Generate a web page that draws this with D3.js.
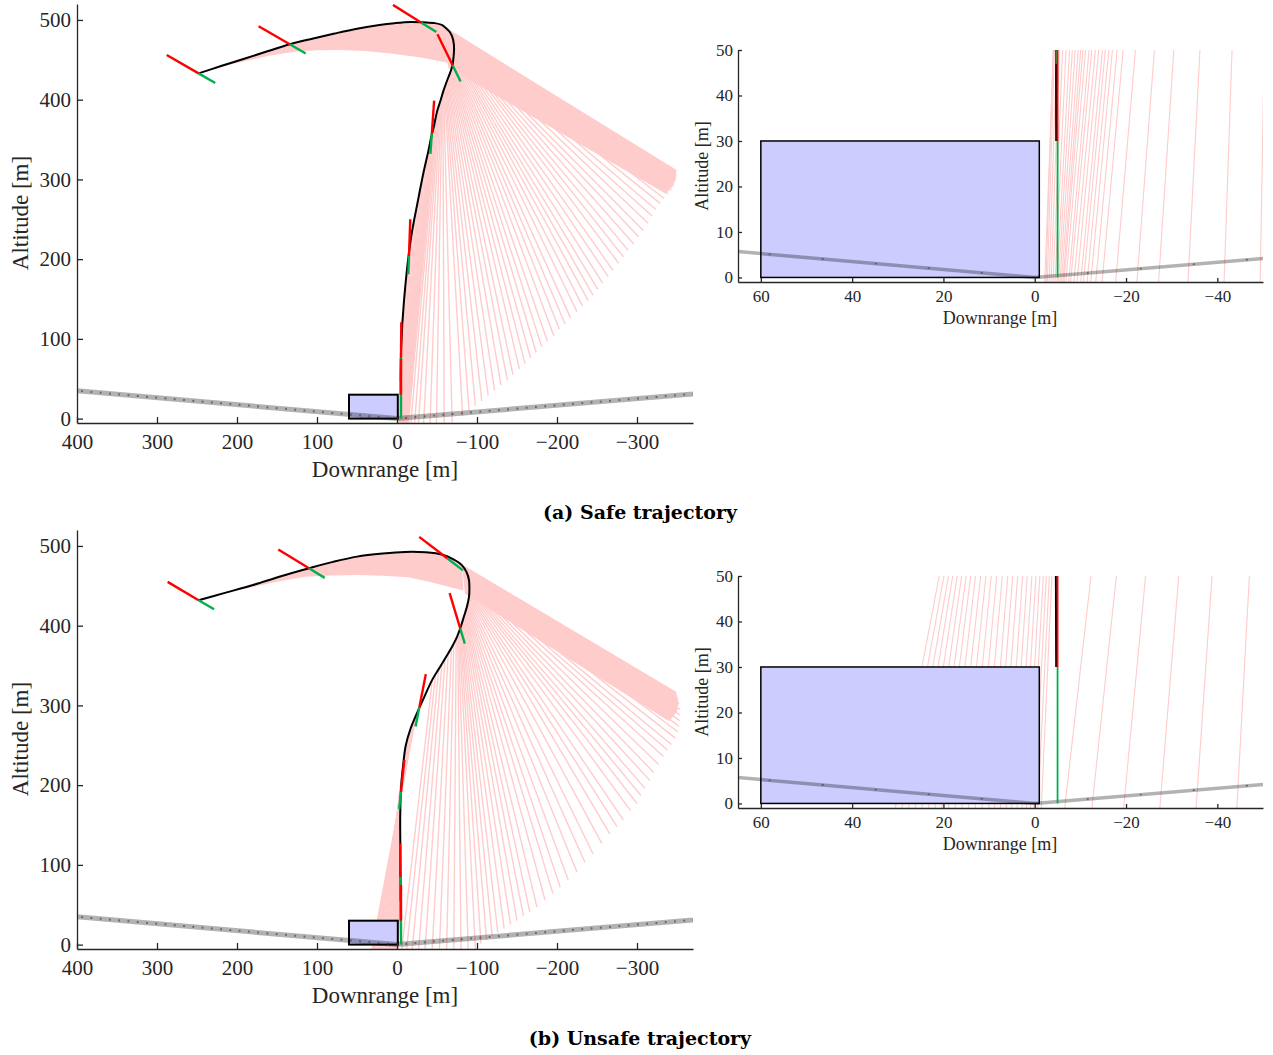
<!DOCTYPE html>
<html>
<head>
<meta charset="utf-8">
<script src="https://cdn.jsdelivr.net/npm/d3@7"></script>
<style>
    body { margin: 0; background: #fff; }
    svg text { font-family: "Liberation Serif", "DejaVu Serif", serif; }
    .caption { font-family: "DejaVu Serif", serif; font-weight: bold; fill: #000; }
</style>
</head>
<body>
<svg id="chart" width="1273" height="1055"></svg>
<script>
// ---------- ticks ----------
const mainXTicks = [400, 300, 200, 100, 0, -100, -200, -300]
const mainYTicks = [0, 100, 200, 300, 400, 500]
const zoomXTicks = [60, 40, 20, 0, -20, -40]
const zoomYTicks = [0, 10, 20, 30, 40, 50]

// ---------- scene (m) ----------
const groundX = [400, 0, -370]
const groundY = [35, 0, 31]
const padX = [60, -1]
const padY = [0, 30]

// ---------- (a) safe ----------
const trajAX = [248, 219, 189, 161, 134, 106, 78, 50, 22, 3, -17, -33, -47.5, -56, -61, -65.5, -69, -71, -71.3, -70.5, -69.5, -66.5, -63, -58, -54.6, -50, -46, -42.5, -39.5, -33, -26.3, -17.1, -8.8, -5.2, -4.7, -4.7]
const trajAY = [433, 442.5, 452, 461, 469.5, 476.5, 483, 489, 493.7, 496, 497.5, 497, 496, 493.7, 490, 485.5, 479, 470, 462, 452, 443.5, 434, 425, 411, 399.6, 385, 366, 352, 337, 308, 274, 224, 148.5, 90, 50, 30]

const bandAX = [248, 219, 189, 161, 134, 106, 78, 50, 22, 3, -17, -33, -47.5, -56, -61, -65, -30, 8, 40, 72, 100, 128, 160, 200]
const bandAY = [433, 442.5, 452, 461, 469.5, 476.5, 483, 489, 493.7, 496, 497.5, 497, 496, 493.7, 490, 446, 453, 458, 461, 462.3, 462, 460, 455, 446]
const wedgeAX = [-61, -349, -349, -345, -336, -64]
const wedgeAY = [490, 312, 302, 292, 282, 440]

// fan lines: start on the path, end on the envelope / ground
const fanAX0 = [-60, -61, -62, -63, -63.8, -64.7, -65.5, -66.4, -67.3, -68.2, -69, -69.6, -70.1, -70.5, -70.8, -71, -71.2, -71.3, -71.3, -71.3, -71.3, -71.1, -71, -70.8, -70.6, -70.3, -70, -69.7, -69.4, -69, -68.5, -68, -67.4, -66.8, -66.2, -65.5, -64.8, -64, -63.3, -62.5, -61.7, -60.9, -60.1, -59.3,
    -58.3, -57.3, -56.3, -55.3, -54.2, -53, -51.8, -50.6, -49.4,
    -48, -46.8, -45.6, -44.4, -43, -41.5, -40, -38, -35.5, -33,
    -30.5, -28, -25.5, -22.5, -19.8, -17, -14, -11.3, -9, -7.2, -6, -5.2, -4.8]
const fanAY0 = [490.5, 489.3, 488, 486.8, 485.6, 484.4, 483.2, 482, 480.9, 479.9, 478.6, 477.2, 475.8, 474.4, 473, 471.5, 470, 468, 466, 464, 462, 460, 458, 456, 454, 452, 450, 448, 446, 444, 442, 440, 438, 436, 434, 432, 430, 428, 425.5, 423, 420.5, 418, 415.5, 413,
    410, 407, 404, 401, 398, 394, 390, 386, 382,
    376, 370, 364, 358, 352, 345, 339, 330, 320, 309,
    296, 285, 272, 258, 244, 224, 200, 176, 150, 125, 105, 88, 68]
const fanAX1 = [-349, -349, -348, -346, -343, -339, -334, -329, -324, -319, -314, -308, -302, -296, -289, -283, -277, -270, -264, -257, -251, -245, -239, -232, -225, -217, -210, -203, -196, -188, -181, -174, -167, -160, -153, -145, -138, -130, -122, -114, -106, -98, -90, -82,
    -69, -59, -49.3, -41.3, -33.3, -26.8, -22, -17.3, -14.3,
    -12.9, -11.8, -11, -10.2, -9.6, -8.8, -8.1, -7.4, -7, -6.4,
    -6, -5.8, -5.5, -5.2, -4.9, -4.6, -4.2, -3.8, -3.4, -3, -2.6, -2.3, -2]
const fanAY1 = [310, 304, 298, 292, 287, 282, 276, 270, 262, 254, 245, 236, 228, 219, 211, 203, 195, 186, 178, 170, 162, 155, 148, 141, 134, 126, 119, 112, 104, 97, 90, 83, 76, 69, 62, 55, 48, 42, 35, 29, 22, 16, 10, 4,
    -6, -6, -6, -6, -6, -6, -6, -6, -6,
    -6, -6, -6, -6, -6, -6, -6, -6, -6, -6,
    -6, -6, -6, -6, -6, -6, -6, -6, -6, -6, -6, -6, -6]

// attitude markers: centre, tilt (deg), red and green lengths (m)
const mkAX = [248, 134, -30.6, -69.4, -43.5, -15, -5, -5]
const mkAY = [433, 469.5, 496.6, 443.5, 357, 204, 77, 30]
const mkAAng = [-60, -60, -58, -26, 4, 2, 0.5, 0]
const mkARed = [46, 45, 42, 43, 42, 46, 44, 45]
const mkAGrn = [24, 23, 22, 23, 25, 23, 30, 30]

// ---------- (b) unsafe ----------
const trajBX = [248, 214, 180, 145, 110, 80, 50, 18, -10, -36, -57, -70, -81, -87, -90, -90.5, -90, -87.5, -83.5, -79.5, -75, -69, -62, -53, -44, -32, -24, -17, -11, -7.9, -5, -4, -4, -4.5, -4.7]
const trajBY = [432, 441.5, 451, 462, 472, 480, 486.6, 490.5, 492.5, 492, 489, 483.5, 476, 467, 457, 446, 436, 424, 411, 398, 386, 374, 362, 347, 332, 306, 288, 271, 250, 227, 195, 160, 143, 80, 30]

const bandBX = [248, 214, 180, 145, 110, 80, 50, 18, -10, -36, -57, -70, -81, -83, -40, -14.5, 18, 50, 82, 115, 150, 200]
const bandBY = [432, 441.5, 451, 462, 472, 480, 486.6, 490.5, 492.5, 492, 489, 483.5, 476, 444, 455, 460.7, 462.5, 463.6, 463, 461.5, 455, 444]
const wedgeBX = [-81, -349, -352, -350, -340, -85]
const wedgeBY = [476, 316, 304, 292, 280, 440]

const fanBX0 = [-81, -82.2, -83.3, -84.4, -85.4, -86.3, -87.1, -87.8, -88.4, -89, -89.4, -89.8, -90, -90.2, -90.3, -90.3, -90.3, -90.2, -90.1, -90, -89.8, -89.5, -89.2, -88.7, -88.2, -87.7, -87.2, -86.7, -86.2, -85.7, -85.2, -84.7, -84.1, -83.5, -82.8, -82, -81.2, -80.4, -79.6, -78.7, -77.8, -76.8, -75.9,
    -74, -71, -68, -64, -60, -56, -52, -48, -44,
    -24, -22, -20, -18, -16, -14, -12, -10, -8.5, -7.3, -6.3, -5.5, -5, -4.6, -4.3, -4.1, -4, -4, -4, -4.1, -4.1, -4.2, -4.3, -4.3, -4.4, -4.4]
const fanBY0 = [476, 474.5, 473, 471.5, 470, 468.3, 466.6, 464.9, 463.2, 461.5, 459.8, 458, 456, 454, 452, 450, 448, 446, 444, 442, 440, 438, 436, 434, 432, 430, 428, 426, 424, 422, 420, 418, 415.5, 413, 409, 406.5, 404, 401.5, 399, 396.5, 394, 391, 388.5,
    384, 378, 372.5, 365, 358, 351, 344, 337, 330.5,
    288, 282, 277, 273, 267, 260, 252, 243, 234, 224, 214, 204, 194, 184, 174, 164, 154, 144, 134, 124, 114, 104, 94, 84, 74, 64]
const fanBX1 = [-349, -351, -352.5, -353.5, -354, -353.5, -352.5, -351, -348, -343, -338, -333, -327, -321, -316, -310, -305, -300, -292, -283, -275, -266, -256, -245, -235, -225, -214, -204, -195, -185, -175, -166, -158, -150, -142, -134, -126, -119, -112, -105, -98, -89, -80,
    -71, -62, -53, -44, -35, -27, -19, -12, -6,
    31.5, 30, 28.5, 27, 25.5, 24, 22.5, 21, 19.5, 18, 16.5, 15, 13.5, 12, 10.5, 9.2, 7.9, 6.6, 5.4, 4.2, 3.1, 2.1, 1.2, 0.4, -0.4, -1.2]
const fanBY1 = [316, 309, 302, 295, 288, 281, 274, 267, 259, 251, 244, 236, 226, 216, 206, 196, 187, 177, 168, 156, 148, 139, 127, 114, 103, 91, 81, 72, 64, 56, 47, 41, 36, 30, 25, 20, 15, 11, 6, 1, -6, -6, -6,
    -6, -6, -6, -6, -6, -6, -6, -6, -6,
    -6, -6, -6, -6, -6, -6, -6, -6, -6, -6, -6, -6, -6, -6, -6, -6, -6, -6, -6, -6, -6, -6, -6, -6, -6, -6]

const mkBX = [248, 110, -62.7, -79, -28, -5, -4, -5]
const mkBY = [432, 472, 484.6, 396.7, 298, 192, 85, 30]
const mkBAng = [-59.4, -58.5, -52.5, -16.7, 11, 6, 0, 0]
const mkBRed = [45, 45, 44, 46, 42, 40, 42, 45]
const mkBGrn = [22.5, 23, 25, 20, 25, 22, 30, 30]

// ---------- layout ----------
const PINK = '#ffcccc'
const AXIS = '#262626'

const VIEWS = [
    { name: 'main', xDom: [400, -370], xr: [77, 693], yDom: [-5.5, 520], yr: [423, 4],
      xt: mainXTicks, yt: mainYTicks, tick: 6, fs: 21, lfs: 23, xpad: 11, ypad: 6,
      xlab: [385, 477], ylab: [20, 213], gw: 5, dots: '1.8 7.5', dotW: 2, boxW: 2, mkW: 2.4, fanW: 1.4 },
    { name: 'zoom', xDom: [65, -50], xr: [738, 1263], yDom: [-1, 50], yr: [282, 50],
      xt: zoomXTicks, yt: zoomYTicks, tick: 4, fs: 17, lfs: 18, xpad: 8, ypad: 5,
      xlab: [1000, 324], ylab: [702, 166], gw: 3.5, dots: '2 51.2', dotW: 1.6, boxW: 1.5, mkW: 1.8, fanW: 1.1 }
]

const PANELS = [
    { key: 'a', off: 0, caption: '(a) Safe trajectory',
      traj: [trajAX, trajAY], band: [bandAX, bandAY], wedge: [wedgeAX, wedgeAY],
      fan: [fanAX0, fanAY0, fanAX1, fanAY1], mk: [mkAX, mkAY, mkAAng, mkARed, mkAGrn] },
    { key: 'b', off: 526, caption: '(b) Unsafe trajectory',
      traj: [trajBX, trajBY], band: [bandBX, bandBY], wedge: [wedgeBX, wedgeBY],
      fan: [fanBX0, fanBY0, fanBX1, fanBY1], mk: [mkBX, mkBY, mkBAng, mkBRed, mkBGrn] }
]

const $svg = d3.select('#chart')
const zip = (xs, ys) => xs.map((d, i) => [d, ys[i]])

function drawView(p, v) {
    const x = d3.scaleLinear().domain(v.xDom).range(v.xr)
    const y = d3.scaleLinear().domain(v.yDom).range([v.yr[0] + p.off, v.yr[1] + p.off])
    const line = d3.line().x(d => x(d[0])).y(d => y(d[1]))
    const clipId = `clip-${p.key}-${v.name}`

    $svg.append('clipPath').attr('id', clipId)
        .append('rect')
        .attr('x', v.xr[0]).attr('y', v.yr[1] + p.off)
        .attr('width', v.xr[1] - v.xr[0])
        .attr('height', v.yr[0] - v.yr[1])

    const g = $svg.append('g').attr('clip-path', `url(#${clipId})`)

    // pink fan
    g.append('path').attr('d', line(zip(p.band[0], p.band[1])) + 'Z').attr('fill', PINK)
    g.append('path').attr('d', line(zip(p.wedge[0], p.wedge[1])) + 'Z').attr('fill', PINK)
    const [fx0, fy0, fx1, fy1] = p.fan
    g.append('g').selectAll('line')
        .data(d3.range(fx0.length))
        .join('line')
        .attr('x1', i => x(fx0[i])).attr('y1', i => y(fy0[i]))
        .attr('x2', i => x(fx1[i])).attr('y2', i => y(fy1[i]))
        .attr('stroke', PINK)
        .attr('stroke-width', v.fanW)

    // landing zone
    g.append('rect')
        .attr('x', x(padX[0])).attr('y', y(padY[1]))
        .attr('width', x(padX[1]) - x(padX[0]))
        .attr('height', y(padY[0]) - y(padY[1]))
        .attr('fill', '#ccccff')
        .attr('stroke', '#000')
        .attr('stroke-width', v.boxW)

    // ground, drawn from the origin outwards so the dots line up
    const sides = [[[groundX[1], groundY[1]], [groundX[0], groundY[0]]],
                   [[groundX[1], groundY[1]], [groundX[2], groundY[2]]]]
    sides.forEach(s => {
        g.append('path').attr('d', line(s))
            .attr('fill', 'none')
            .attr('stroke', '#000')
            .attr('stroke-opacity', 0.3)
            .attr('stroke-width', v.gw)
        g.append('path').attr('d', line(s))
            .attr('fill', 'none')
            .attr('stroke', '#333')
            .attr('stroke-opacity', 0.6)
            .attr('stroke-width', v.dotW)
            .attr('stroke-dasharray', v.dots)
            .attr('stroke-dashoffset', 1)
    })

    // trajectory
    g.append('path')
        .attr('d', d3.line().x(d => x(d[0])).y(d => y(d[1])).curve(d3.curveCatmullRom)(zip(p.traj[0], p.traj[1])))
        .attr('fill', 'none')
        .attr('stroke', '#000')
        .attr('stroke-width', 2)

    // attitude markers
    const [mx, my, ma, mr, mg] = p.mk
    mx.forEach((cx, i) => {
        const a = ma[i] * Math.PI / 180
        const tip = [cx - mr[i] * Math.sin(a), my[i] + mr[i] * Math.cos(a)]
        const tail = [cx + mg[i] * Math.sin(a), my[i] - mg[i] * Math.cos(a)]
        g.append('path').attr('d', line([[cx, my[i]], tip]))
            .attr('stroke', '#ff0000').attr('stroke-width', v.mkW)
        g.append('path').attr('d', line([[cx, my[i]], tail]))
            .attr('stroke', '#00b050').attr('stroke-width', v.mkW)
    })

    // axes
    const xAxis = $svg.append('g')
        .attr('transform', `translate(0,${v.yr[0] + p.off})`)
        .call(d3.axisBottom(x).tickValues(v.xt).tickSizeInner(-v.tick).tickSizeOuter(0).tickPadding(v.xpad))
    const yAxis = $svg.append('g')
        .attr('transform', `translate(${v.xr[0]},0)`)
        .call(d3.axisLeft(y).tickValues(v.yt).tickSizeInner(-v.tick).tickSizeOuter(0).tickPadding(v.ypad))
    ;[xAxis, yAxis].forEach(ax => {
        ax.attr('font-size', v.fs).attr('font-family', null).style('color', AXIS)
        ax.selectAll('path, line').attr('stroke-width', 1.3)
    })

    $svg.append('text')
        .attr('x', v.xlab[0]).attr('y', v.xlab[1] + p.off)
        .attr('text-anchor', 'middle')
        .attr('font-size', v.lfs)
        .attr('fill', AXIS)
        .text('Downrange [m]')
    $svg.append('text')
        .attr('transform', `translate(${v.ylab[0]},${v.ylab[1] + p.off}) rotate(-90)`)
        .attr('text-anchor', 'middle')
        .attr('dy', '0.35em')
        .attr('font-size', v.lfs)
        .attr('fill', AXIS)
        .text('Altitude [m]')
}

PANELS.forEach(p => {
    VIEWS.forEach(v => drawView(p, v))
    $svg.append('text')
        .attr('class', 'caption')
        .attr('x', 640).attr('y', 519 + p.off)
        .attr('text-anchor', 'middle')
        .attr('font-size', 19)
        .text(p.caption)
})
</script>
</body>
</html>
